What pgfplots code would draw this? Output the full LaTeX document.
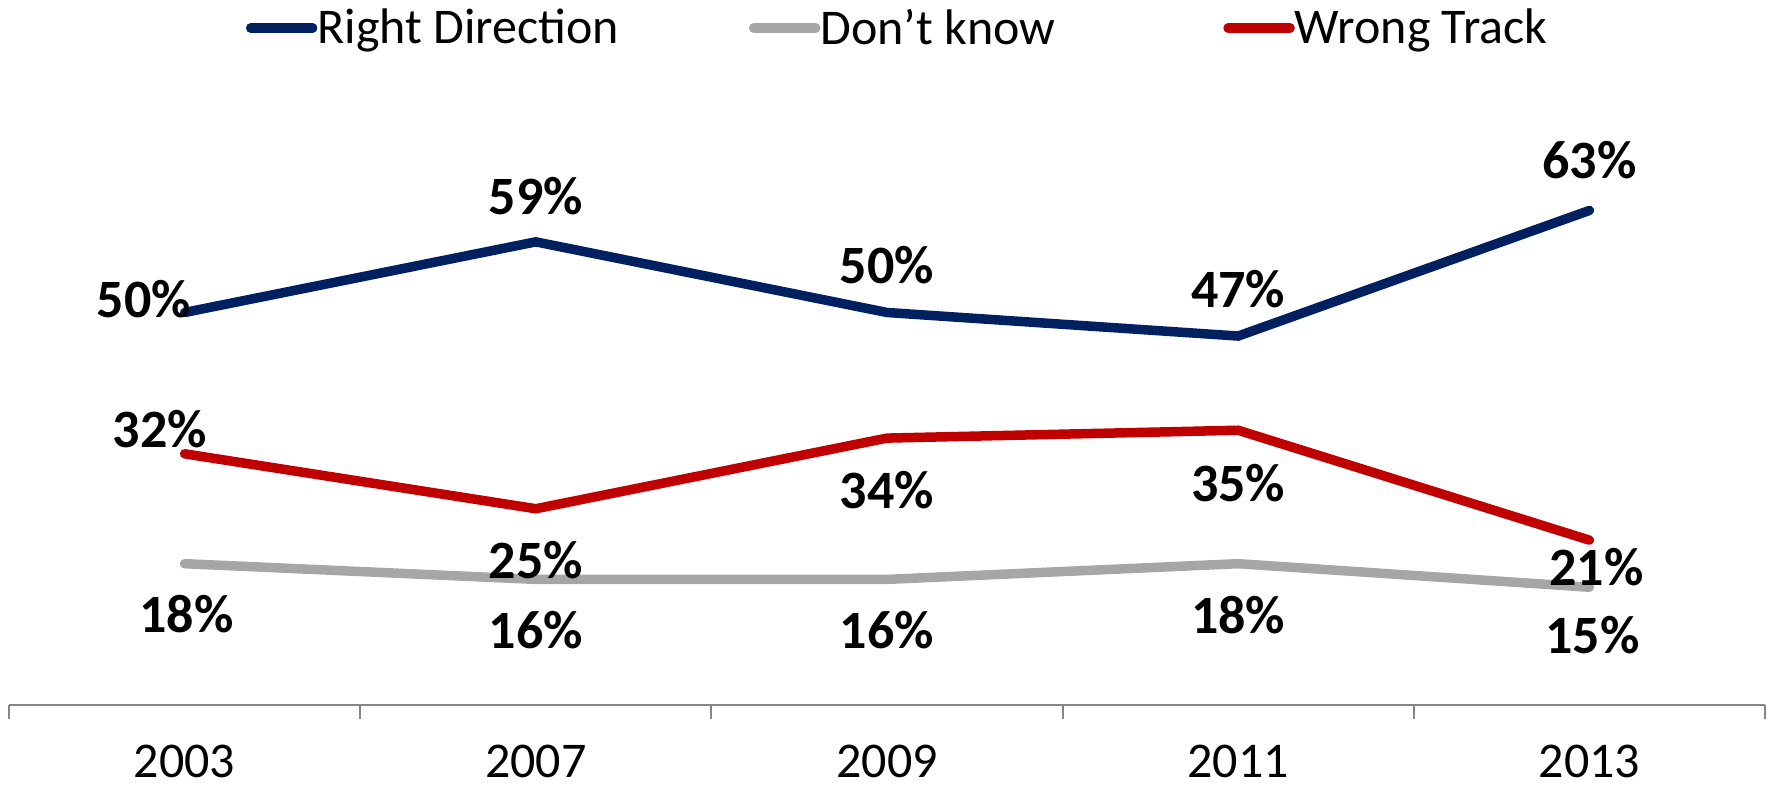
\documentclass[border=0pt]{standalone}
\usepackage{fontspec}
\setmainfont{Carlito}
\usepackage{pgfplots}
\pgfplotsset{compat=1.18}
\usepackage{pgfplotstable}
\definecolor{rdblue}{HTML}{002060}
\definecolor{wtred}{HTML}{C00000}
\definecolor{dkgray}{HTML}{A6A6A6}
\definecolor{axisgray}{HTML}{868686}

\pgfplotstableread{
x y dx dy
0 50 -20.3 6.5
1 59 0 23
2 50 0 23.5
3 47 0 23.3
4 63 0 25
}\rdtab
\pgfplotstableread{
x y dx dy
0 18 1 -25
1 16 0 -25.3
2 16 0 -25.3
3 18 0 -25.7
4 15 1.5 -24
}\dktab
\pgfplotstableread{
x y dx dy
0 32 -12.3 12.3
1 25 0 -25.7
2 34 0 -26
3 35 0 -26.3
4 21 3.5 -13.5
}\wttab

\begin{document}
\begin{tikzpicture}
\begin{axis}[
  at={(0,0)}, anchor=south west,
  scale only axis, width=878pt, height=314pt,
  xmin=-0.5, xmax=4.5, ymin=0, ymax=80,
  axis x line=bottom, axis y line=none,
  x axis line style={-, draw=axisgray, line width=1pt},
  xtick={0,1,2,3,4}, xticklabels={2003,2007,2009,2011,2013},
  major tick length=0pt,
  minor xtick={-0.5,0.5,1.5,2.5,3.5,4.5},
  minor tick length=7pt,
  minor x tick style={draw=axisgray, line width=1pt},
  tick align=outside,
  xticklabel style={font=\fontsize{25}{28}\selectfont, anchor=center, yshift=-28pt, inner sep=0pt},
  /pgf/number format/assume math mode=true,
  clip=false,
  legend columns=3,
  legend style={at={(0.1347,1.078)}, anchor=west, draw=none, fill=none, inner sep=0pt,
    font=\fontsize{25}{28}\selectfont, column sep=0pt,
    /tikz/column 2/.style={column sep=65pt},
    /tikz/column 4/.style={column sep=84pt},
    nodes={inner sep=0pt}},
  legend image code/.code={\path (0pt,0pt) -- (31pt,0pt); \draw[line width=4.5pt, line cap=round] (2.25pt,0pt) -- (28.5pt,0pt);},
  point meta=y,
  nodes near coords={\pgfmathprintnumber[assume math mode=true]{\pgfplotspointmeta}\%},
  visualization depends on={\thisrow{dx} \as \dx},
  visualization depends on={\thisrow{dy} \as \dy},
  every node near coord/.append style={font=\bfseries\fontsize{27}{30}\selectfont, text=black, anchor=center, inner sep=0pt, xshift=\dx pt, yshift=\dy pt},
]
\addplot[rdblue, line width=4.75pt, line cap=round, line join=miter] table[x=x,y=y] {\rdtab};
\addlegendentry{Right Direction}
\addplot[dkgray, line width=4.75pt, line cap=round, line join=miter] table[x=x,y=y] {\dktab};
\addlegendentry{Don't know}
\addplot[wtred, line width=4.75pt, line cap=round, line join=miter] table[x=x,y=y] {\wttab};
\addlegendentry{Wrong Track}
\end{axis}
\pgfresetboundingbox
\path[use as bounding box] (-4.5pt,-40pt) rectangle (879.5pt,352.5pt);
\end{tikzpicture}
\end{document}
